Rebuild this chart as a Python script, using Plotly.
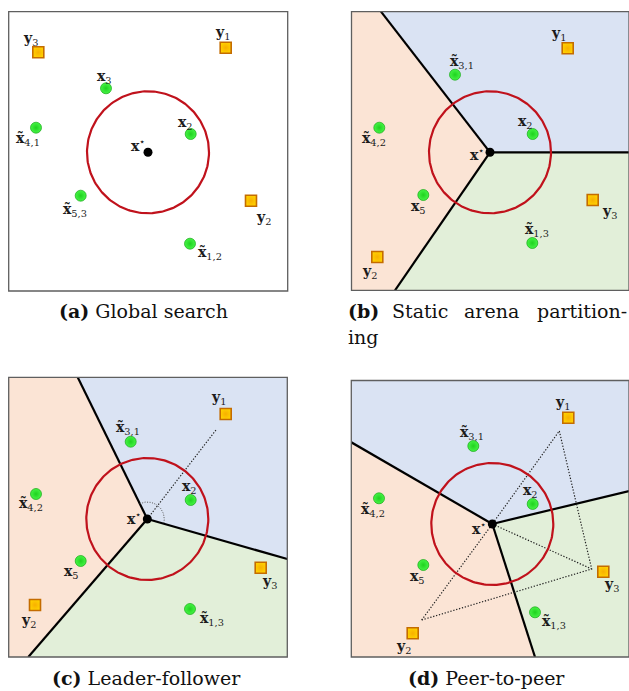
import numpy as np
import plotly.graph_objects as go

FIG_W, FIG_H = 629, 691

# ---------------------------------------------------------------------------
# Arena contents, in arena units (origin at the bottom-left corner of each box)
# ---------------------------------------------------------------------------

# (a) Global search
a_center = (139.3, 138.7)
a_agent_x = [97.3, 27.3, 182.0, 72.0, 181.3]
a_agent_y = [202.7, 163.3, 157.0, 95.3, 47.3]
a_agent_lbl = [("x", "3", False), ("x", "4,1", True), ("x", "2", False),
               ("x", "5,3", True), ("x", "1,2", True)]
a_target_x = [217.0, 242.3, 29.6]
a_target_y = [243.3, 90.3, 238.7]
a_target_lbl = [("y", "1", False), ("y", "2", False), ("y", "3", False)]

# (b) Static arena partitioning
b_center = (138.5, 138.0)
b_agent_x = [103.5, 27.8, 181.2, 71.8, 180.8]
b_agent_y = [215.6, 162.6, 156.3, 95.3, 47.3]
b_agent_lbl = [("x", "3,1", True), ("x", "4,2", True), ("x", "2", False),
               ("x", "5", False), ("x", "1,3", True)]
b_target_x = [216.2, 241.2, 25.8]
b_target_y = [242.0, 90.3, 33.3]
b_target_lbl = [("y", "1", False), ("y", "3", False), ("y", "2", False)]
b_borders = [(43.5, 0.0), (277.0, 138.0), (29.5, 278.6)]

# (c) Leader-follower
c_center = (138.6, 138.0)
c_agent_x = [122.0, 27.3, 182.0, 72.0, 181.3]
c_agent_y = [215.3, 163.0, 157.0, 96.0, 48.0]
c_agent_lbl = b_agent_lbl
c_target_x = [217.0, 252.0, 26.3]
c_target_y = [243.0, 89.3, 52.0]
c_target_lbl = [("y", "1", False), ("y", "3", False), ("y", "2", False)]
c_borders = [(19.6, 0.0), (278.6, 98.0), (69.0, 279.7)]
c_leader_ray = [(138.6, 138.0), (207.3, 227.0)]

# (d) Peer-to-peer
d_center = (141.0, 133.0)
d_agent_x = [122.0, 27.7, 181.4, 72.0, 183.7]
d_agent_y = [211.0, 158.7, 153.0, 92.0, 44.7]
d_agent_lbl = b_agent_lbl
d_target_x = [217.0, 252.0, 61.4]
d_target_y = [239.3, 85.3, 23.7]
d_target_lbl = [("y", "1", False), ("y", "3", False), ("y", "2", False)]
d_borders = [(183.7, 0.0), (277.7, 166.0), (0.0, 214.7)]
d_peer_links = [
    [(70.4, 37.0), (141.0, 133.0), (208.0, 226.0)],
    [(208.0, 226.0), (240.4, 88.0), (70.4, 37.0)],
    [(141.0, 133.0), (240.4, 88.0)],
]

SEARCH_RADIUS = 61.0

# ---------------------------------------------------------------------------
# Layout: pixel boxes of the four arenas (left, top, right, bottom)
# ---------------------------------------------------------------------------
BOXES = {
    "a": (8.7, 11.7, 287.7, 291.0),
    "b": (351.5, 11.7, 629.0, 290.3),
    "c": (8.7, 377.3, 287.3, 657.0),
    "d": (351.3, 380.5, 629.0, 657.0),
}

# label offsets (pixels, +y is up) for agents, targets and x*
LBL_OFF = {
    "a": dict(agent=[(-1.3, 11.6), (-8, -11.3), (-5, 11), (-5.7, -14.3), (20, -9.3)],
              target=[(-3, 14.7), (12, -17.3), (-7.3, 13.3)], star=(-10, 7)),
    "b": dict(agent=[(6.7, 13), (-5, -11.6), (-7, 11.7), (-5, -12.3), (4.4, 13)],
              target=[(-9.4, 14), (16.6, -12.3), (-8, -14.7)], star=(-13.5, -1.5)),
    "c": dict(agent=[(-2.4, 13.4), (-5.3, -10.3), (-1.7, 12.7), (-9, -11.3), (21.7, -10)],
              target=[(-7.4, 15.7), (8.6, -14), (-6.7, -16)], star=(-13.5, 1)),
    "d": dict(agent=[(-1.6, 12.7), (-5.7, -11.7), (-2, 13), (-6, -11.7), (19.3, -10)],
              target=[(-5.6, 14.4), (8.4, -13.3), (-9.4, -13.4)], star=(-13, -4.3)),
}

SERIF = "DejaVu Serif"
TXT = "#1c1c1c"
BLUE, PINK, GREEN = "#dae3f3", "#fbe4d5", "#e2efd9"
RED = "#c0121c"
DOTS = "1.3px,1.7px"


def vec_label(sym, sub, tilde):
    body = sym + ("\u0303" if tilde else "")
    return f"<b>{body}</b><sub>{sub}</sub>"


def perim_pos(p, W, H):
    x, y = p
    if abs(y) < 1e-6:
        return x
    if abs(x - W) < 1e-6:
        return W + y
    if abs(y - H) < 1e-6:
        return W + H + (W - x)
    return 2 * W + H + (H - y)


def region_polygon(center, e1, e2, W, H):
    per = 2 * (W + H)
    s1, s2 = perim_pos(e1, W, H), perim_pos(e2, W, H)
    corners = [(0, (0, 0)), (W, (W, 0)), (W + H, (W, H)), (2 * W + H, (0, H))]
    span = (s2 - s1) % per
    inside = sorted(((s - s1) % per, c) for s, c in corners if 0 < (s - s1) % per < span)
    pts = [center, e1] + [c for _, c in inside] + [e2, center]
    return [p[0] for p in pts], [p[1] for p in pts]


fig = go.Figure()
annotations = []
shapes = []

panels = {
    "a": dict(center=a_center, ax=a_agent_x, ay=a_agent_y, al=a_agent_lbl,
              tx=a_target_x, ty=a_target_y, tl=a_target_lbl, borders=None),
    "b": dict(center=b_center, ax=b_agent_x, ay=b_agent_y, al=b_agent_lbl,
              tx=b_target_x, ty=b_target_y, tl=b_target_lbl, borders=b_borders),
    "c": dict(center=c_center, ax=c_agent_x, ay=c_agent_y, al=c_agent_lbl,
              tx=c_target_x, ty=c_target_y, tl=c_target_lbl, borders=c_borders),
    "d": dict(center=d_center, ax=d_agent_x, ay=d_agent_y, al=d_agent_lbl,
              tx=d_target_x, ty=d_target_y, tl=d_target_lbl, borders=d_borders),
}

for i, (key, P) in enumerate(panels.items()):
    n = "" if i == 0 else str(i + 1)
    xa, ya = "x" + n, "y" + n
    left, top, right, bottom = BOXES[key]
    W, H = right - left, bottom - top
    fig.layout["xaxis" + n] = dict(domain=[left / FIG_W, right / FIG_W], range=[0, W],
                                   visible=False, fixedrange=True)
    fig.layout["yaxis" + n] = dict(domain=[1 - bottom / FIG_H, 1 - top / FIG_H], range=[0, H],
                                   visible=False, fixedrange=True)
    cx, cy = P["center"]

    # partition regions
    if P["borders"]:
        ends = [(min(max(x, 0), W), min(max(y, 0), H)) for x, y in P["borders"]]
        ends = [(W if abs(x - W) < 1.5 else x, H if abs(y - H) < 1.5 else y) for x, y in ends]
        for k, col in enumerate([GREEN, BLUE, PINK]):
            px, py = region_polygon((cx, cy), ends[k], ends[(k + 1) % 3], W, H)
            fig.add_trace(go.Scatter(x=px, y=py, mode="lines", fill="toself", fillcolor=col,
                                     line=dict(width=0, color=col), hoverinfo="skip",
                                     showlegend=False, xaxis=xa, yaxis=ya))
        for ex, ey in ends:
            fig.add_trace(go.Scatter(x=[cx, ex], y=[cy, ey], mode="lines",
                                     line=dict(color="black", width=2.2), hoverinfo="skip",
                                     showlegend=False, xaxis=xa, yaxis=ya))

    # dotted communication links
    if key == "c":
        rx, ry = zip(*c_leader_ray)
        fig.add_trace(go.Scatter(x=rx, y=ry, mode="lines",
                                 line=dict(color="#222", width=1.2, dash=DOTS),
                                 hoverinfo="skip", showlegend=False, xaxis=xa, yaxis=ya))
        # angle marker spanning the leader's sector
        e_top, e_right = c_borders[2], c_borders[1]
        a0 = np.arctan2(e_top[1] - cy, e_top[0] - cx)
        a1 = np.arctan2(e_right[1] - cy, e_right[0] - cx)
        t = np.linspace(a0, a1, 60)
        fig.add_trace(go.Scatter(x=cx + 17 * np.cos(t), y=cy + 17 * np.sin(t), mode="lines",
                                 line=dict(color="#555", width=1, dash="1px,1.5px"),
                                 hoverinfo="skip", showlegend=False, xaxis=xa, yaxis=ya))
    if key == "d":
        for link in d_peer_links:
            lx, ly = zip(*link)
            fig.add_trace(go.Scatter(x=lx, y=ly, mode="lines",
                                     line=dict(color="#222", width=1.2, dash=DOTS),
                                     hoverinfo="skip", showlegend=False, xaxis=xa, yaxis=ya))

    # search radius around x*
    t = np.linspace(0, 2 * np.pi, 240)
    fig.add_trace(go.Scatter(x=cx + SEARCH_RADIUS * np.cos(t), y=cy + SEARCH_RADIUS * np.sin(t),
                             mode="lines", line=dict(color=RED, width=2.2),
                             hoverinfo="skip", showlegend=False, xaxis=xa, yaxis=ya))

    # agents
    fig.add_trace(go.Scatter(x=P["ax"], y=P["ay"], mode="markers",
                             marker=dict(size=11, color="#46f446",
                                         gradient=dict(type="radial", color="#1fd21f"),
                                         line=dict(color="#14a814", width=0.7)),
                             hoverinfo="skip", showlegend=False, xaxis=xa, yaxis=ya))
    # targets
    fig.add_trace(go.Scatter(x=P["tx"], y=P["ty"], mode="markers",
                             marker=dict(symbol="square", size=11, color="#ffd000",
                                         gradient=dict(type="radial", color="#f8b000"),
                                         line=dict(color="#c46c00", width=1.6)),
                             hoverinfo="skip", showlegend=False, xaxis=xa, yaxis=ya))
    # x*
    fig.add_trace(go.Scatter(x=[cx], y=[cy], mode="markers",
                             marker=dict(size=9, color="black"),
                             hoverinfo="skip", showlegend=False, xaxis=xa, yaxis=ya))

    # labels
    offs = LBL_OFF[key]
    for (x, y, lab), (dx, dy) in zip(zip(P["ax"], P["ay"], P["al"]), offs["agent"]):
        annotations.append(dict(x=x, y=y, xref=xa, yref=ya, text=vec_label(*lab),
                                xshift=dx, yshift=dy, showarrow=False,
                                font=dict(family=SERIF, size=14, color=TXT)))
    for (x, y, lab), (dx, dy) in zip(zip(P["tx"], P["ty"], P["tl"]), offs["target"]):
        annotations.append(dict(x=x, y=y, xref=xa, yref=ya, text=vec_label(*lab),
                                xshift=dx, yshift=dy, showarrow=False,
                                font=dict(family=SERIF, size=14, color=TXT)))
    sdx, sdy = offs["star"]
    annotations.append(dict(x=cx, y=cy, xref=xa, yref=ya, text="<b>x</b><sup>\u22c6</sup>",
                            xshift=sdx, yshift=sdy, showarrow=False,
                            font=dict(family=SERIF, size=14, color=TXT)))

    # arena frame
    shapes.append(dict(type="rect", xref=xa + " domain", yref=ya + " domain",
                       x0=0, x1=1, y0=0, y1=1, layer="above",
                       line=dict(color="#5f5f5f", width=1.3)))


def cap(text, px, py, anchor="center"):
    annotations.append(dict(x=px / FIG_W, y=1 - py / FIG_H, xref="paper", yref="paper",
                            text=text, showarrow=False, xanchor=anchor, yanchor="middle",
                            font=dict(family=SERIF, size=19, color="#111")))


cap("<b>(a)</b> Global search", 143, 311)
# justified first line of caption (b)
cap("<b>(b)</b>", 346, 311, "left")
cap("Static", 390, 311, "left")
cap("arena", 491, 311, "center")
cap("partition-", 629, 311, "right")
cap("ing", 346, 337, "left")
cap("<b>(c)</b> Leader-follower", 146, 678)
cap("<b>(d)</b> Peer-to-peer", 486, 678)

fig.update_layout(width=FIG_W, height=FIG_H, margin=dict(l=0, r=0, t=0, b=0),
                  paper_bgcolor="white", plot_bgcolor="white",
                  annotations=annotations, shapes=shapes, showlegend=False)

fig.write_html("out.html")
